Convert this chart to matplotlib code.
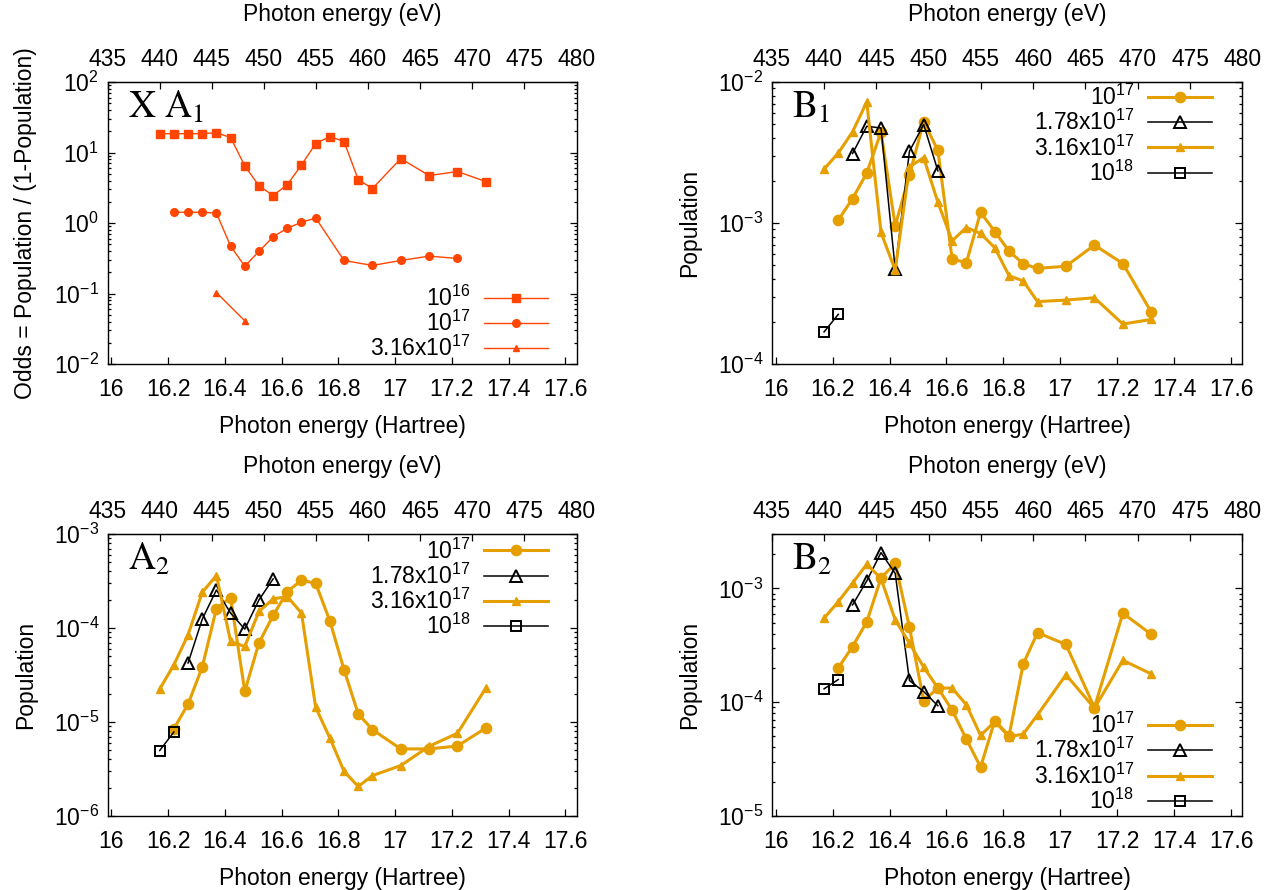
import matplotlib
matplotlib.use("Agg")
import matplotlib.pyplot as plt
from matplotlib.ticker import (FixedLocator, FuncFormatter, LogLocator,
                               LogFormatterSciNotation, NullFormatter)

plt.rcParams['font.family'] = ['Liberation Sans', 'DejaVu Sans']
plt.rcParams['mathtext.fontset'] = 'custom'
plt.rcParams['mathtext.rm'] = 'Liberation Sans'
plt.rcParams['mathtext.it'] = 'Liberation Sans:italic'
plt.rcParams['mathtext.bf'] = 'Liberation Sans:bold'

HARTREE = 27.2114  # eV per Hartree

# ---- photon energy grids (Hartree) ----
e_all = [16.17, 16.22, 16.27, 16.32, 16.37, 16.42, 16.47, 16.52, 16.57, 16.62,
         16.67, 16.72, 16.77, 16.82, 16.87, 16.92, 17.02, 17.12, 17.22, 17.32]
e_from_22 = e_all[1:]
e_178 = [16.27, 16.32, 16.37, 16.42, 16.47, 16.52, 16.57]
e_1e18 = [16.17, 16.22]

# ---- panel X A1 : odds ----
xa1_e17 = [16.22, 16.27, 16.32, 16.37, 16.42, 16.47, 16.52, 16.57, 16.62, 16.67,
           16.72, 16.82, 16.92, 17.02, 17.12, 17.22]
xa1_e316 = [16.37, 16.47]
xa1_1e16 = [18.5, 18.5, 18.5, 18.5, 19.1, 16.3, 6.46, 3.37, 2.45, 3.51,
            6.67, 13.4, 16.8, 14.3, 4.13, 3.08, 8.20, 4.71, 5.37, 3.87]
xa1_1e17 = [1.42, 1.42, 1.42, 1.38, 0.47, 0.244, 0.395, 0.637, 0.846, 1.02,
            1.18, 0.294, 0.250, 0.294, 0.339, 0.314]
xa1_316e17 = [0.103, 0.041]

# ---- panel B1 ----
b1_1e17 = [1.05e-3, 1.49e-3, 2.26e-3, 4.43e-3, 9.55e-4, 2.19e-3, 5.24e-3, 3.27e-3,
           5.55e-4, 5.23e-4, 1.19e-3, 8.70e-4, 6.31e-4, 5.14e-4, 4.76e-4, 4.94e-4,
           6.97e-4, 5.16e-4, 2.33e-4]
b1_178e17 = [3.11e-3, 4.85e-3, 4.72e-3, 4.71e-4, 3.23e-3, 4.99e-3, 2.34e-3]
b1_316e17 = [2.41e-3, 3.14e-3, 4.43e-3, 7.22e-3, 8.57e-4, 4.63e-4, 2.50e-3, 2.91e-3,
             1.40e-3, 7.48e-4, 9.29e-4, 8.43e-4, 6.67e-4, 4.23e-4, 3.88e-4, 2.77e-4,
             2.84e-4, 2.95e-4, 1.92e-4, 2.07e-4]
b1_1e18 = [1.69e-4, 2.25e-4]

# ---- panel A2 ----
a2_1e17 = [8.49e-6, 1.55e-5, 3.84e-5, 1.61e-4, 2.11e-4, 2.12e-5, 6.95e-5, 1.36e-4,
           2.44e-4, 3.22e-4, 2.99e-4, 1.19e-4, 3.60e-5, 1.22e-5, 8.30e-6, 5.17e-6,
           5.17e-6, 5.56e-6, 8.63e-6]
a2_178e17 = [4.24e-5, 1.24e-4, 2.54e-4, 1.44e-4, 9.73e-5, 1.99e-4, 3.33e-4]
a2_316e17 = [2.24e-5, 4.06e-5, 8.46e-5, 2.40e-4, 3.61e-4, 7.19e-5, 6.36e-5, 1.50e-4,
             2.04e-4, 2.16e-4, 1.44e-4, 1.43e-5, 6.76e-6, 2.99e-6, 2.06e-6, 2.69e-6,
             3.44e-6, 5.52e-6, 7.59e-6, 2.30e-5]
a2_1e18 = [4.97e-6, 7.83e-6]

# ---- panel B2 ----
b2_1e17 = [2.00e-4, 3.08e-4, 5.07e-4, 1.23e-3, 1.66e-3, 4.55e-4, 1.03e-4, 1.33e-4,
           8.51e-5, 4.73e-5, 2.69e-5, 6.90e-5, 5.07e-5, 2.17e-4, 4.08e-4, 3.21e-4,
           8.97e-5, 6.04e-4, 3.94e-4]
b2_178e17 = [7.14e-4, 1.16e-3, 2.06e-3, 1.35e-3, 1.55e-4, 1.24e-4, 9.29e-5]
b2_316e17 = [5.46e-4, 7.64e-4, 1.11e-3, 1.63e-3, 1.22e-3, 5.28e-4, 3.30e-4, 2.03e-4,
             1.33e-4, 1.33e-4, 9.48e-5, 5.10e-5, 6.76e-5, 4.97e-5, 5.24e-5, 7.74e-5,
             1.74e-4, 8.86e-5, 2.33e-4, 1.77e-4]
b2_1e18 = [1.31e-4, 1.58e-4]

hartree_ticks = [16, 16.2, 16.4, 16.6, 16.8, 17, 17.2, 17.4, 17.6]
ev_ticks = list(range(435, 481, 5))

ORANGE = '#e69f00'
RED = '#ff4500'
FS = 16.5

W, H = 1271, 890
fig = plt.figure(figsize=(W / 100, H / 100), dpi=100)


def make_axes(x0, y0, x1, y1):
    return fig.add_axes([x0 / W, 1 - y1 / H, (x1 - x0) / W, (y1 - y0) / H])


def style_axes(ax, ylim, ylabel):
    ax.set_xlim(435 / HARTREE, 480 / HARTREE)
    ax.set_yscale('log')
    ax.set_ylim(*ylim)
    ax.xaxis.set_major_locator(FixedLocator(hartree_ticks))
    ax.xaxis.set_major_formatter(FuncFormatter(lambda v, p: f'{v:g}'))
    ax.yaxis.set_major_locator(LogLocator(base=10, numticks=20))
    ax.yaxis.set_major_formatter(LogFormatterSciNotation())
    ax.yaxis.set_minor_locator(LogLocator(base=10, subs=range(2, 10), numticks=20))
    ax.yaxis.set_minor_formatter(NullFormatter())
    ax.tick_params(which='both', direction='in', right=True, top=False,
                   labelsize=FS, width=0.9)
    ax.tick_params(which='major', length=5, pad=10)
    ax.tick_params(which='minor', length=2.5)
    ax.tick_params(axis='y', which='major', pad=6)
    for s in ax.spines.values():
        s.set_linewidth(1.0)
    ax.set_xlabel('Photon energy (Hartree)', fontsize=FS, labelpad=10)
    ax.set_ylabel(ylabel, fontsize=FS, labelpad=12)
    sec = ax.secondary_xaxis('top', functions=(lambda h: h * HARTREE,
                                               lambda ev: ev / HARTREE))
    sec.xaxis.set_major_locator(FixedLocator(ev_ticks))
    sec.tick_params(direction='in', length=5, width=0.9, labelsize=FS, pad=8)
    sec.set_xlabel('Photon energy (eV)', fontsize=FS, labelpad=19)


def panel_label(ax, txt):
    ax.text(0.043, 0.874, txt, transform=ax.transAxes, fontsize=27,
            va='baseline', ha='left', math_fontfamily='stix')


def legend(ax, loc, anchor):
    leg = ax.legend(loc=loc, bbox_to_anchor=anchor, frameon=False,
                    markerfirst=False, fontsize=FS, handlelength=2.8,
                    handletextpad=0.6, labelspacing=0.0, borderpad=0,
                    borderaxespad=0)
    return leg


# ---- X A1 ----
ax1 = make_axes(107.5, 82, 576.5, 364)
ax1.plot(e_all, xa1_1e16, '-s', color=RED, lw=1.0, ms=6, label=r'$10^{16}$')
ax1.plot(xa1_e17, xa1_1e17, '-o', color=RED, lw=1.0, ms=5.5, label=r'$10^{17}$')
ax1.plot(xa1_e316, xa1_316e17, '-^', color=RED, lw=1.0, ms=4.5,
         label=r'3.16x$10^{17}$')
style_axes(ax1, (1e-2, 1e2), 'Odds = Population / (1-Population)')
panel_label(ax1, r'$\mathrm{X\ A_1}$')
legend(ax1, 'lower right', (0.94, 0.01))


def pop_panel(ax, s17, s178, s316, s18):
    ax.plot(e_from_22, s17, '-o', color=ORANGE, lw=2.2, ms=7.4, label=r'$10^{17}$')
    ax.plot(e_178, s178, '-^', color='black', lw=1.1, ms=8, mfc='none',
            mew=1.4, label=r'1.78x$10^{17}$')
    ax.plot(e_all, s316, '-^', color=ORANGE, lw=2.2, ms=6.2, label=r'3.16x$10^{17}$')
    ax.plot(e_1e18, s18, '-s', color='black', lw=1.1, ms=7.8, mfc='none',
            mew=1.4, label=r'$10^{18}$')


# ---- B1 ----
ax2 = make_axes(771.7, 82, 1242.3, 364)
pop_panel(ax2, b1_1e17, b1_178e17, b1_316e17, b1_1e18)
style_axes(ax2, (1e-4, 1e-2), 'Population')
panel_label(ax2, r'$\mathrm{B_1}$')
legend(ax2, 'upper right', (0.936, 0.99))

# ---- A2 ----
ax3 = make_axes(107.5, 534, 576.5, 816)
pop_panel(ax3, a2_1e17, a2_178e17, a2_316e17, a2_1e18)
style_axes(ax3, (1e-6, 1e-3), 'Population')
panel_label(ax3, r'$\mathrm{A_2}$')
legend(ax3, 'upper right', (0.94, 0.985))

# ---- B2 ----
ax4 = make_axes(771.7, 534, 1242.3, 816)
pop_panel(ax4, b2_1e17, b2_178e17, b2_316e17, b2_1e18)
style_axes(ax4, (1e-5, 3e-3), 'Population')
panel_label(ax4, r'$\mathrm{B_2}$')
legend(ax4, 'lower right', (0.936, 0.008))

fig.savefig('out.png', dpi=100)
